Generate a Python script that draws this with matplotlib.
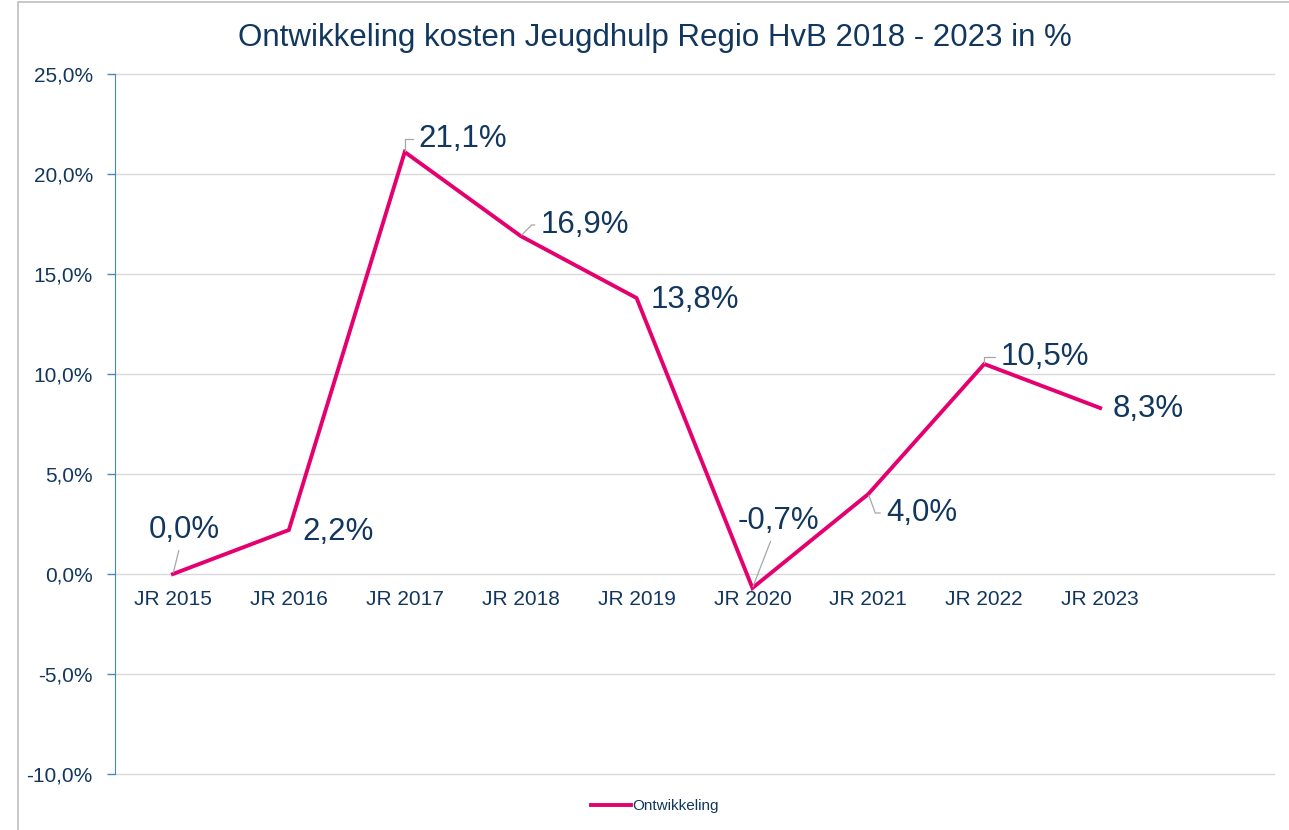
import matplotlib.pyplot as plt
from matplotlib.patches import Rectangle
from matplotlib.ticker import FuncFormatter
from matplotlib import rc

rc('font', family=['Liberation Sans', 'DejaVu Sans'])

# Data
jaren = ['JR 2015', 'JR 2016', 'JR 2017', 'JR 2018', 'JR 2019',
         'JR 2020', 'JR 2021', 'JR 2022', 'JR 2023']
ontwikkeling = [0.0, 2.2, 21.1, 16.9, 13.8, -0.7, 4.0, 10.5, 8.3]

navy = '#12375e'
roze = '#e5006f'
grijs = '#d9d9d9'

# label offsets (pixels) and leader line style (None = no leader)
offsets = [(11, 44), (49, -2), (58, 13), (64, 11), (58, -2),
           (26, 67), (53, -19), (61, 7), (48, -1)]
leaders = ['arc3', None, 'angle,angleA=0,angleB=90,rad=0',
           'angle,angleA=0,angleB=45,rad=0', None, 'arc3',
           'angle,angleA=0,angleB=-70,rad=0', 'angle,angleA=0,angleB=90,rad=0', None]

fig = plt.figure(figsize=(12.89, 8.30), dpi=100)
ax = fig.add_axes([115/1289, 1 - 774/830, (1274 - 115)/1289, 700/830])

x = list(range(len(jaren)))
ax.plot(x, ontwikkeling, color=roze, linewidth=2.8, label='Ontwikkeling',
        solid_joinstyle='miter', zorder=3)

ax.set_xlim(-0.5, 9.5)
ax.set_ylim(-10, 25)
ax.set_yticks(range(-10, 26, 5))
ax.yaxis.set_major_formatter(FuncFormatter(lambda v, p: f'{v:.1f}%'.replace('.', ',')))
ax.grid(axis='y', color=grijs, linewidth=1)
ax.set_axisbelow(True)
for gl in ax.get_ygridlines():
    gl.set_clip_on(False)

for s in ['top', 'right', 'bottom']:
    ax.spines[s].set_visible(False)
ax.spines['left'].set_color('#4a87b5')
ax.tick_params(axis='y', colors='#4a87b5', length=6, width=1, labelcolor=navy,
               labelsize=15, pad=10)

# category labels just below the zero line
ax.set_xticks([])
for i, lab in enumerate(jaren):
    ax.annotate(lab, (i, 0), xytext=(0, -25), textcoords='offset pixels',
                ha='center', va='center', fontsize=15, color=navy)

# data labels
for i, v in enumerate(ontwikkeling):
    dx, dy = offsets[i]
    props = None
    if leaders[i]:
        props = dict(arrowstyle='-', color='#a6a6a6', lw=0.9,
                     shrinkA=2, shrinkB=1, connectionstyle=leaders[i])
    ax.annotate(f'{v:.1f}%'.replace('.', ','), (i, v), xytext=(dx, dy),
                textcoords='offset pixels', ha='center', va='center',
                fontsize=22.5, color=navy, arrowprops=props, zorder=4)

fig.text(655/1289, 1 - 38/830, 'Ontwikkeling kosten Jeugdhulp Regio HvB 2018 - 2023 in %',
         ha='center', va='center', fontsize=22.5, color=navy)

leg = fig.legend(loc='center', bbox_to_anchor=(655/1289, 1 - 806/830), frameon=False,
                 fontsize=11, handlelength=2.6, handletextpad=0.1)
for t in leg.get_texts():
    t.set_color(navy)

fig.patches.append(Rectangle((18/1289, -0.05), 1.1, 1 - 2/830 + 0.05,
                             transform=fig.transFigure, fill=False,
                             edgecolor='#bfbfbf', linewidth=1.2))

fig.savefig('out.png', dpi=100)
